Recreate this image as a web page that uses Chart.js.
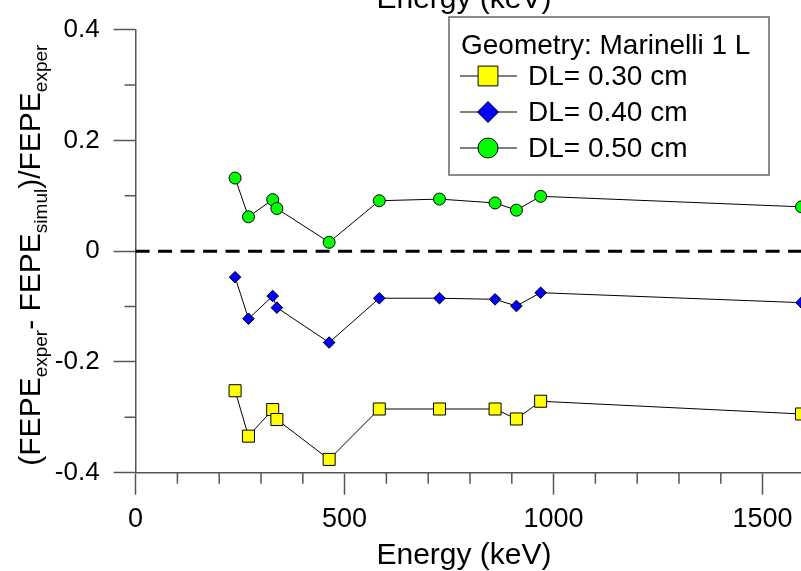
<!DOCTYPE html>
<html>
<head>
<meta charset="utf-8">
<script src="https://cdn.jsdelivr.net/npm/chart.js@4"></script>
<style>
  html, body { margin: 0; padding: 0; background: #fff; overflow: hidden; }
  #wrap { width: 801px; height: 571px; overflow: hidden; position: relative; }
  #c { position: absolute; left: 0; top: 0; }
</style>
</head>
<body>
<div id="wrap"><canvas id="c" width="830" height="571"></canvas></div>
<script>
// energies (keV) and relative deviation for each dead layer
const energies = [238, 270, 328, 338, 463, 583, 727, 860, 911, 969, 1593];
const dl030 = [-0.252, -0.334, -0.286, -0.304, -0.376, -0.285, -0.285, -0.285, -0.303, -0.271, -0.294];
const dl040 = [-0.047, -0.122, -0.081, -0.102, -0.165, -0.085, -0.085, -0.087, -0.099, -0.075, -0.093];
const dl050 = [0.132, 0.062, 0.093, 0.077, 0.016, 0.091, 0.094, 0.087, 0.074, 0.099, 0.080];
const seriesLabels = ["DL= 0.30 cm", "DL= 0.40 cm", "DL= 0.50 cm"];
const xTicks = [0, 500, 1000, 1500];
const xMinor = [100, 200, 300, 400, 600, 700, 800, 900, 1100, 1200, 1300, 1400, 1600];
const yTicks = [-0.4, -0.2, 0, 0.2, 0.4];
const yMinor = [-0.3, -0.1, 0.1, 0.3];
const legendTitle = "Geometry: Marinelli 1 L";
const axisTitle = "Energy (keV)";

const FONT = "'Liberation Sans', Arial, sans-serif";
const AXIS = "#555";

const pts = (ys) => energies.map((e, i) => ({ x: e, y: ys[i] }));

const extras = {
  id: "extras",
  beforeDatasetsDraw(chart) {
    const { ctx, chartArea: a, scales: { x, y } } = chart;
    // zero reference line
    const y0 = y.getPixelForValue(0);
    ctx.save();
    ctx.strokeStyle = "#000";
    ctx.lineWidth = 3;
    ctx.setLineDash([14, 8.5]);
    ctx.beginPath();
    ctx.moveTo(a.left, y0);
    ctx.lineTo(a.right, y0);
    ctx.stroke();
    ctx.restore();

    // minor ticks
    ctx.save();
    ctx.strokeStyle = AXIS;
    ctx.lineWidth = 1.5;
    ctx.beginPath();
    xMinor.forEach(v => {
      const px = x.getPixelForValue(v);
      ctx.moveTo(px, a.bottom);
      ctx.lineTo(px, a.bottom + 11);
    });
    yMinor.forEach(v => {
      const py = y.getPixelForValue(v);
      ctx.moveTo(a.left, py);
      ctx.lineTo(a.left - 11, py);
    });
    ctx.stroke();
    ctx.restore();
  },
  afterDraw(chart) {
    const { ctx, chartArea: a } = chart;
    ctx.save();
    ctx.fillStyle = "#000";

    // axis titles top and bottom
    ctx.font = "30px " + FONT;
    ctx.textAlign = "center";
    ctx.textBaseline = "alphabetic";
    ctx.fillText(axisTitle, 464, 8);
    ctx.fillText(axisTitle, 464, 564);

    // y title with subscripts
    const parts = [
      ["(FEPE", false], ["exper", true], ["- FEPE", false], ["simul", true],
      [")/FEPE", false], ["exper", true]
    ];
    const big = "30px " + FONT, small = "19px " + FONT;
    let total = 0;
    parts.forEach(([t, s]) => { ctx.font = s ? small : big; total += ctx.measureText(t).width; });
    ctx.translate(40, (a.top + a.bottom) / 2 + 4);
    ctx.rotate(-Math.PI / 2);
    ctx.textAlign = "left";
    let cx = -total / 2;
    parts.forEach(([t, s]) => {
      ctx.font = s ? small : big;
      ctx.fillText(t, cx, s ? 7 : 0);
      cx += ctx.measureText(t).width;
    });
    ctx.setTransform(1, 0, 0, 1, 0, 0);

    // legend box
    ctx.strokeStyle = "#666";
    ctx.lineWidth = 1.5;
    ctx.fillStyle = "#fff";
    ctx.fillRect(449, 17, 320, 158);
    ctx.strokeRect(449, 17, 320, 158);
    ctx.fillStyle = "#000";
    ctx.font = "28px " + FONT;
    ctx.textAlign = "left";
    ctx.textBaseline = "alphabetic";
    ctx.fillText(legendTitle, 461, 54);
    chart.data.datasets.forEach((ds, i) => {
      const ly = 76 + i * 36;
      ctx.strokeStyle = "#000";
      ctx.lineWidth = 1;
      ctx.beginPath();
      ctx.moveTo(460, ly);
      ctx.lineTo(517, ly);
      ctx.stroke();
      ctx.fillStyle = ds.pointBackgroundColor;
      ctx.strokeStyle = "#000";
      Chart.helpers.drawPoint(ctx, {
        pointStyle: ds.pointStyle, rotation: 0, borderWidth: 1,
        radius: ds.pointStyle === "rect" ? 14 : (ds.pointStyle === "rectRot" ? 10.5 : 10)
      }, 488, ly);
      ctx.fillStyle = "#000";
      ctx.font = "28px " + FONT;
      ctx.textBaseline = "middle";
      ctx.fillText(ds.label, 528, ly + 1);
    });
    ctx.restore();
  }
};

const mk = (label, ys, style, color, r) => ({
  label, data: pts(ys), showLine: true, clip: false,
  borderColor: "#000", borderWidth: 1,
  pointStyle: style, pointRadius: r, pointBackgroundColor: color,
  pointBorderColor: "#000", pointBorderWidth: 1
});

new Chart(document.getElementById("c"), {
  type: "scatter",
  data: {
    datasets: [
      mk(seriesLabels[0], dl030, "rect", "#ffff00", 8.5),
      mk(seriesLabels[1], dl040, "rectRot", "#0000ff", 5.8),
      mk(seriesLabels[2], dl050, "circle", "#00ff00", 6)
    ]
  },
  options: {
    responsive: false,
    animation: false,
    devicePixelRatio: 1,
    layout: { padding: { top: 25, right: 25.6, left: 0, bottom: 0 } },
    plugins: { legend: { display: false }, tooltip: { enabled: false } },
    scales: {
      x: {
        type: "linear", min: 0, max: 1600,
        afterBuildTicks: s => { s.ticks = xTicks.map(v => ({ value: v })); },
        afterFit: s => { s.height = 571 - 472.7; },
        border: { color: AXIS, width: 1.5 },
        grid: { drawOnChartArea: false, tickLength: 22, tickColor: AXIS, tickWidth: 1.5 },
        ticks: { color: "#000", font: { family: FONT, size: 27 }, padding: 9, maxRotation: 0,
          callback: v => String(v) }
      },
      y: {
        type: "linear", min: -0.4, max: 0.4,
        afterBuildTicks: s => { s.ticks = yTicks.map(v => ({ value: v })); },
        afterFit: s => { s.width = 135.6; },
        border: { color: AXIS, width: 1.5 },
        grid: { drawOnChartArea: false, tickLength: 22, tickColor: AXIS, tickWidth: 1.5 },
        ticks: { color: "#000", font: { family: FONT, size: 26 }, padding: 14,
          callback: v => String(Math.round(v * 10) / 10) }
      }
    }
  },
  plugins: [extras]
});
</script>
</body>
</html>
